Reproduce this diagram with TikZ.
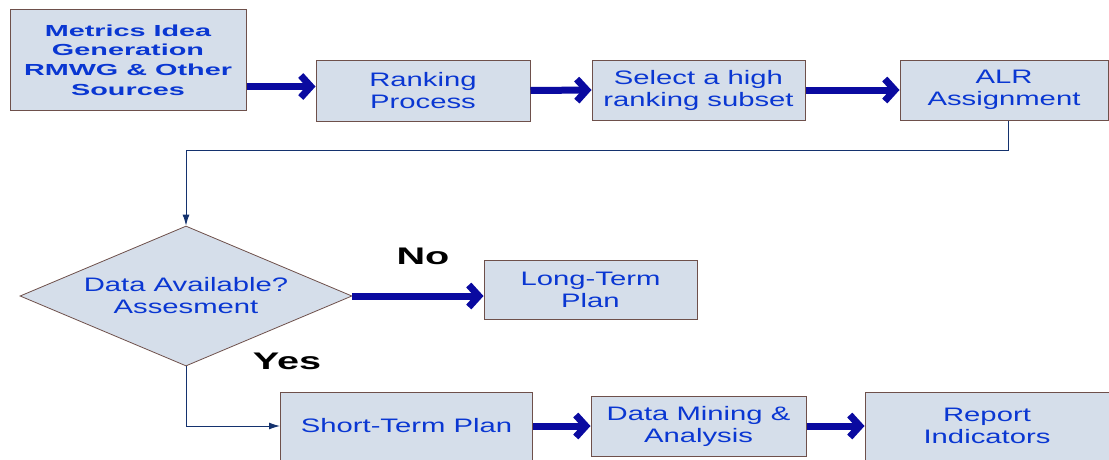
\documentclass[tikz,border=0pt]{standalone}
\usepackage{fontspec}
\setmainfont{Liberation Sans}
\newfontfamily\boxfont[FakeStretch=1.5]{Liberation Sans}
\newfontfamily\wideboldfont[FakeStretch=1.8]{Liberation Sans}
\newfontfamily\labelfont[FakeStretch=1.65]{Liberation Sans}
\usetikzlibrary{shapes.geometric,arrows.meta}
\definecolor{boxfill}{RGB}{213,222,234}
\definecolor{boxline}{RGB}{110,80,75}
\definecolor{textblue}{RGB}{10,55,210}
\definecolor{arrowblue}{RGB}{10,10,160}
\definecolor{flowline}{RGB}{20,50,110}
\begin{document}
\begin{tikzpicture}[x=1pt,y=-1pt,
    stepbox/.style={draw=boxline, fill=boxfill, line width=1pt, inner sep=0pt,
      align=center, text=textblue, font=\boxfont\fontsize{19.5}{22}\selectfont},
    bigarrow/.style={line width=7pt, draw=arrowblue, -{Straight Barb[length=10pt,width=22pt]}},
    flow/.style={line width=1pt, draw=flowline, -{Latex[length=11pt,width=7pt]}},
    answer/.style={font=\labelfont\bfseries\fontsize{24}{28}\selectfont}]
    \useasboundingbox (0,0) rectangle (1109,459);
    % Baris atas
    \node[stepbox, minimum width=236, minimum height=101,
      font=\wideboldfont\bfseries\fontsize{16}{19.6}\selectfont] (metrics) at (128,60)
      {Metrics Idea\\Generation\\RMWG \& Other\\Sources};
    \node[stepbox, minimum width=214, minimum height=61] (ranking) at (423,90.5) {Ranking\\Process};
    \node[stepbox, minimum width=213, minimum height=60] (subset) at (698.5,90) {Select a high\\ranking subset};
    \node[stepbox, minimum width=208, minimum height=60] (alr) at (1004,90) {ALR\\Assignment};
    % Keputusan
    \node[diamond, draw=boxline, fill=boxfill, line width=0.8pt, inner sep=0pt,
      minimum width=332, minimum height=140, shape aspect=2.37, align=center,
      text=textblue, font=\boxfont\fontsize{19.5}{22}\selectfont] (assess) at (186,296)
      {Data Available?\\Assesment};
    \node[stepbox, minimum width=213, minimum height=59] (longterm) at (590.5,289.5) {Long-Term\\Plan};
    % Baris bawah
    \node[stepbox, minimum width=252, minimum height=68] (shortterm) at (406.5,426) {Short-Term Plan};
    \node[stepbox, minimum width=215, minimum height=60] (mining) at (698.5,426) {Data Mining \&\\Analysis};
    \node[stepbox, minimum width=244, minimum height=68] (report) at (987,426) {Report\\Indicators};
    % Label
    \node[answer] (lblno) at (423,256) {No};
    \node[answer] (lblyes) at (287,361) {Yes};
    % Panah
    \coordinate (rankin) at ([yshift=4pt]ranking.west);
    \coordinate (alrout) at ([xshift=4pt]alr.south);
    \draw[bigarrow] (metrics.east |- rankin) -- (rankin);
    \draw[bigarrow] (ranking.east) -- (subset.west);
    \draw[bigarrow] (subset.east) -- (alr.west);
    \draw[flow] (alrout) -- ++(0,30) -| (assess.north);
    \draw[bigarrow] (assess.east) -- (assess.east -| longterm.west);
    \draw[flow] (assess.south) |- (shortterm.west);
    \draw[bigarrow] (shortterm.east) -- (mining.west);
    \draw[bigarrow] (mining.east) -- (report.west);
\end{tikzpicture}
\end{document}
